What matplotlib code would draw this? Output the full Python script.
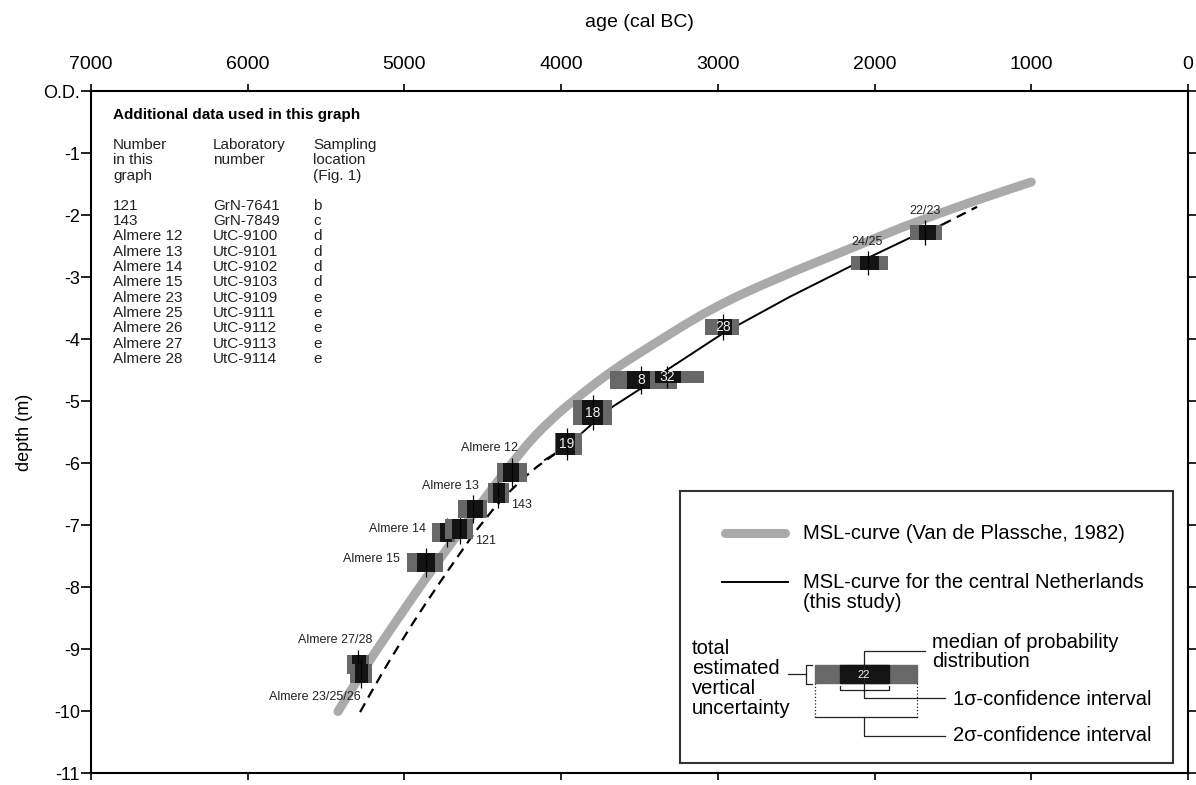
import numpy as np
import matplotlib.pyplot as plt
from matplotlib.path import Path
from matplotlib.patches import PathPatch

plt.rcParams['font.family'] = ['Liberation Sans', 'DejaVu Sans']

# MSL curve of Van de Plassche (1982): age (cal BC), depth (m O.D.)
vdp_age = [5424, 5271, 5079, 4837, 4582, 4262, 4071, 3880, 3669, 3452,
           3031, 2603, 2220, 1582, 1000]
vdp_depth = [-10.0, -9.36, -8.64, -7.75, -6.88, -5.81, -5.30, -4.90, -4.49,
             -4.14, -3.48, -2.99, -2.60, -1.94, -1.46]

# MSL curve for the central Netherlands (this study)
low_age = [5283, 5169, 5028, 4869, 4677, 4486, 4294, 4103, 3963]
low_depth = [-10.01, -9.49, -8.90, -8.27, -7.56, -6.88, -6.35, -5.94, -5.72]
mid_age = [4103, 3963, 3797, 3669, 3497, 3324, 2967, 2540, 2138, 1774, 1570]
mid_depth = [-5.94, -5.72, -5.35, -5.08, -4.80, -4.49, -3.90, -3.31, -2.80,
             -2.36, -2.15]
high_age = [1570, 1346]
high_depth = [-2.15, -1.86]

# dated samples: median, 1 sigma range, 2 sigma range, vertical range
box_name = ['27/28', '23/25/26', 'A15', 'A14', '121', 'A13', '143', 'A12',
            '19', '18', '8', '32', '28', '24/25', '22/23']
box_med = [5296, 5277, 4862, 4728, 4645, 4562, 4403, 4313,
           3963, 3797, 3490, 3324, 2967, 2042, 1678]
s1_old = [5334, 5315, 4920, 4773, 4696, 4601, 4435, 4371,
          4033, 3867, 3580, 3401, 3000, 2093, 1716]
s1_young = [5245, 5232, 4805, 4696, 4601, 4499, 4358, 4269,
            3912, 3733, 3433, 3235, 2910, 1972, 1608]
s2_old = [5366, 5347, 4984, 4824, 4741, 4658, 4467, 4409,
          4039, 3924, 3688, 3433, 3082, 2150, 1774]
s2_young = [5226, 5207, 4754, 4677, 4562, 4473, 4333, 4218,
            3867, 3675, 3261, 3088, 2865, 1914, 1570]
dep_top = [-9.09, -9.23, -7.44, -6.96, -6.90, -6.59, -6.31, -5.99,
           -5.51, -4.98, -4.51, -4.51, -3.67, -2.65, -2.15]
dep_bot = [-9.40, -9.54, -7.75, -7.27, -7.22, -6.88, -6.64, -6.30,
           -5.86, -5.38, -4.80, -4.70, -3.93, -2.88, -2.40]
inside_label = ['', '', '', '', '', '', '', '', '19', '18', '8', '32', '28', '', '']

# labels written next to the samples
note_text = ['Almere 12', 'Almere 13', '143', 'Almere 14', '121', 'Almere 15',
             'Almere 27/28', 'Almere 23/25/26', '24/25', '22/23']
note_age = [4454, 4709, 4320, 5047, 4550, 5213, 5443, 5571, 2048, 1678]
note_depth = [-5.75, -6.36, -6.67, -7.06, -7.25, -7.54, -8.85, -9.77, -2.43, -1.93]
note_ha = ['center', 'center', 'left', 'center', 'left', 'center',
           'center', 'center', 'center', 'center']

# table of additional data
tab_head = ['Number\nin this\ngraph', 'Laboratory\nnumber', 'Sampling\nlocation\n(Fig. 1)']
tab_num = ['121', '143', 'Almere 12', 'Almere 13', 'Almere 14', 'Almere 15',
           'Almere 23', 'Almere 25', 'Almere 26', 'Almere 27', 'Almere 28']
tab_lab = ['GrN-7641', 'GrN-7849', 'UtC-9100', 'UtC-9101', 'UtC-9102', 'UtC-9103',
           'UtC-9109', 'UtC-9111', 'UtC-9112', 'UtC-9113', 'UtC-9114']
tab_loc = ['b', 'c', 'd', 'd', 'd', 'd', 'e', 'e', 'e', 'e', 'e']

x_ticks = [7000, 6000, 5000, 4000, 3000, 2000, 1000, 0]
y_ticks = [0, -1, -2, -3, -4, -5, -6, -7, -8, -9, -10, -11]
y_ticklabels = ['O.D.'] + [str(v) for v in y_ticks[1:]]

GREY = '#aaaaaa'
DARK = '#686868'
BLACK = '#141414'


def smooth(ax, xs, ys, **kw):
    # quadratic bezier through the midpoints, read points as control points
    verts = [(xs[0], ys[0])]
    codes = [Path.MOVETO]
    n = len(xs)
    for i in range(1, n - 1):
        end = (xs[-1], ys[-1]) if i == n - 2 else ((xs[i] + xs[i + 1]) / 2, (ys[i] + ys[i + 1]) / 2)
        verts += [(xs[i], ys[i]), end]
        codes += [Path.CURVE3, Path.CURVE3]
    ax.add_patch(PathPatch(Path(verts, codes), fill=False, **kw))


fig = plt.figure(figsize=(11.96, 7.85), dpi=100)
ax = fig.add_axes([0.0761, 0.01465, 0.9172, 0.8688])

smooth(ax, vdp_age, vdp_depth, edgecolor=GREY, lw=6.5, capstyle='round', zorder=1)
smooth(ax, low_age, low_depth, edgecolor='k', lw=1.6, ls=(0, (4.5, 3)), zorder=2)
ax.plot(mid_age, mid_depth, color='k', lw=1.4, zorder=2)
ax.plot(high_age, high_depth, color='k', lw=1.6, dashes=(4.5, 3), zorder=2)

for i in range(len(box_name)):
    yc = (dep_top[i] + dep_bot[i]) / 2
    h = dep_top[i] - dep_bot[i]
    ax.barh(yc, s2_old[i] - s2_young[i], left=s2_young[i], height=h,
            color=DARK, zorder=3 + i * 0.01)
    ax.barh(yc, s1_old[i] - s1_young[i], left=s1_young[i], height=h,
            color=BLACK, zorder=3 + i * 0.01 + 0.001)
    ax.vlines(box_med[i], dep_bot[i] - 0.08, dep_top[i] + 0.08, color='k',
              lw=0.9, zorder=3 + i * 0.01 + 0.002)
    if inside_label[i]:
        ax.text(box_med[i], yc, inside_label[i], ha='center', va='center',
                color='#eeeeee', fontsize=10, zorder=4)

for t, a, d, ha in zip(note_text, note_age, note_depth, note_ha):
    ax.text(a, d, t, ha=ha, va='center', fontsize=9, color='#222222', zorder=4)

ax.set_xlim(7000, 0)
ax.set_ylim(-11, 0)
ax.set_xticks(x_ticks)
ax.set_yticks(y_ticks)
ax.set_yticklabels(y_ticklabels)
ax.xaxis.tick_top()
ax.xaxis.set_label_position('top')
ax.tick_params(axis='x', which='both', top=True, bottom=True, labeltop=True,
               labelbottom=False, direction='out', length=5, width=1.2,
               labelsize=14, pad=8)
ax.tick_params(axis='y', left=True, right=True, direction='out', length=7,
               width=1.2, labelsize=13, pad=1)
for s in ax.spines.values():
    s.set_linewidth(1.5)
ax.set_xlabel('age (cal BC)', fontsize=14, labelpad=21)
ax.set_ylabel('depth (m)', fontsize=13, labelpad=7)

# table in upper left
tr = ax.transAxes
ax.text(0.0201, 0.9655, 'Additional data used in this graph', transform=tr,
        fontsize=11, fontweight='bold', va='center')
col_x = [0.0201, 0.1112, 0.2024]
row_h = 15.33 / 682
for cx, head in zip(col_x, tab_head):
    for j, line in enumerate(head.split('\n')):
        ax.text(cx, 0.9216 - j * row_h, line, transform=tr, fontsize=11,
                va='center', color='#222222')
for r, cells in enumerate(zip(tab_num, tab_lab, tab_loc)):
    for cx, c in zip(col_x, cells):
        ax.text(cx, 0.8326 - r * row_h, c, transform=tr, fontsize=11,
                va='center', color='#222222')

# legend / key box
lg = ax.inset_axes([0.537, 0.0154, 0.449, 0.3988])
lg.set_zorder(10)
lg.set_xlim(0, 493)
lg.set_ylim(272, 0)
lg.set_xticks([])
lg.set_yticks([])
for s in lg.spines.values():
    s.set_linewidth(1.5)
    s.set_color('#333333')

lg.plot([45, 105], [42, 42], color=GREY, lw=6.5, solid_capstyle='round')
lg.text(123, 42, 'MSL-curve (Van de Plassche, 1982)', fontsize=14.5, va='center')
lg.plot([42, 108], [91, 91], color='k', lw=1.4)
lg.text(123, 91, 'MSL-curve for the central Netherlands', fontsize=14.5, va='center')
lg.text(123, 111, '(this study)', fontsize=14.5, va='center')

lg.add_patch(plt.Rectangle((135, 174), 102, 18, color=DARK))
lg.add_patch(plt.Rectangle((160, 174), 49, 18, color=BLACK))
lg.text(184, 183.5, '22', color='#eeeeee', fontsize=8, ha='center', va='center')
kw = dict(color='#222222', lw=0.9)
lg.plot([184, 184, 245], [200, 160, 160], **kw)
lg.text(252, 151, 'median of probability', fontsize=14.5, va='center')
lg.text(252, 170, 'distribution', fontsize=14.5, va='center')
lg.plot([160, 160, 209, 209], [195, 199, 199, 195], **kw)
lg.plot([184, 184, 265], [199, 207, 207], **kw)
lg.text(273, 208, '1σ-confidence interval', fontsize=14.5, va='center')
lg.plot([135, 135], [192, 226], color='#222222', lw=0.9, ls=':')
lg.plot([237, 237], [192, 226], color='#222222', lw=0.9, ls=':')
lg.plot([135, 237], [226, 226], **kw)
lg.plot([184, 184, 265], [226, 245, 245], **kw)
lg.text(273, 245, '2σ-confidence interval', fontsize=14.5, va='center')
lg.plot([132, 126, 126, 132], [174, 174, 193, 193], **kw)
lg.plot([108, 126], [183, 183], **kw)
for j, w in enumerate(['total', 'estimated', 'vertical', 'uncertainty']):
    lg.text(12, 157 + j * 20.3, w, fontsize=14.5, va='center')

fig.savefig('out.png', dpi=100)
